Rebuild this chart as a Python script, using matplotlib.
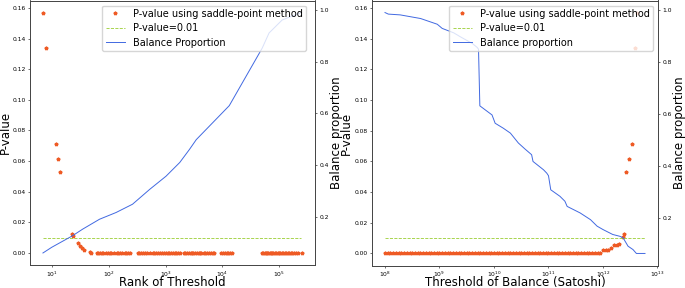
import numpy as np
from matplotlib import pyplot as plt

# ---- left panel: rank of threshold ----
rank_hi = [7, 8, 12, 13, 14, 23, 24, 29, 31, 34, 37, 47, 48]
pval_hi = [0.157, 0.1336, 0.0714, 0.0614, 0.0529, 0.0126, 0.0113, 0.0065, 0.0048, 0.0033, 0.002, 0.0005, 0.0003]
rank_zero = [
    62, 66, 71, 76, 81,
    91, 97, 104, 112, 123,
    138, 148, 160, 170,
    190, 203, 218, 234,
    324, 345, 370, 400, 430, 465, 525,
    590, 630, 680, 740, 800, 850,
    955, 1020, 1090, 1170, 1250, 1340, 1440, 1540, 1650, 1780,
    2090, 2230, 2400, 2580, 2750, 2890,
    3090, 3300, 3550, 3800, 4050, 4270,
    4680, 5000, 5380, 5800, 6250, 6700, 7240,
    9550, 10200, 11000, 11800, 12700, 13600, 14500,
    50100, 52500, 55000, 58000, 61000, 64000, 67500, 71000, 75000, 79000,
    83000, 88000, 93000, 98000, 104000, 110000, 117000, 124000, 132000,
    140000, 150000, 160000, 170000, 182000, 195000, 209000,
    251000,
]
rank_line = [7, 10, 23, 35, 69, 135, 263, 525, 1020, 1780, 2630, 3470, 13200, 50100, 66000, 112000, 166000, 245000]
prop_rank = [0.062, 0.084, 0.128, 0.154, 0.192, 0.218, 0.25, 0.307, 0.358, 0.411, 0.461, 0.499, 0.63, 0.852, 0.91, 0.96, 0.975, 0.989]

# ---- right panel: threshold of balance ----
thr_zero = [
    1.0e8, 1.12e8, 1.26e8, 1.41e8, 1.58e8, 1.78e8, 2.0e8, 2.24e8, 2.51e8, 2.82e8,
    3.16e8, 3.55e8, 3.98e8, 4.47e8, 5.01e8, 5.62e8, 6.31e8, 7.08e8, 7.94e8, 8.91e8,
    1.0e9, 1.12e9, 1.26e9, 1.41e9, 1.58e9, 1.78e9, 2.0e9, 2.24e9, 2.51e9, 2.82e9,
    3.16e9, 3.55e9, 3.98e9, 4.47e9, 5.01e9, 5.62e9, 6.31e9, 7.08e9, 7.94e9, 8.91e9,
    1.0e10, 1.12e10, 1.26e10, 1.41e10, 1.58e10, 1.78e10, 2.0e10, 2.24e10, 2.51e10, 2.82e10,
    3.16e10, 3.55e10, 3.98e10, 4.47e10, 5.01e10, 5.62e10, 6.31e10, 7.08e10, 7.94e10, 8.91e10,
    1.0e11, 1.12e11, 1.26e11, 1.41e11, 1.58e11, 1.78e11, 2.0e11, 2.24e11, 2.51e11, 2.82e11,
    3.16e11, 3.55e11, 3.98e11, 4.47e11, 5.01e11, 5.62e11, 6.31e11, 7.08e11, 7.94e11,
]
thr_hi = [8.9e11, 1.0e12, 1.12e12, 1.26e12, 1.41e12, 1.58e12, 1.78e12, 1.95e12, 2.29e12, 2.4e12,
          2.69e12, 3.02e12, 3.39e12, 3.8e12, 4.27e12]
pval_thr = [0.0005, 0.0024, 0.0024, 0.0024, 0.0037, 0.0054, 0.0054, 0.0063, 0.011, 0.0126,
            0.0529, 0.0614, 0.0714, 0.1336, 0.157]
thr_line = [1.0e8, 1.15e8, 1.9e8, 4.5e8, 9.1e8, 1.12e9, 1.82e9, 2.4e9, 4.0e9, 4.9e9, 5.2e9, 5.5e9,
            9.2e9, 1.05e10, 1.48e10, 2.0e10, 2.8e10, 3.7e10, 4.9e10, 5.2e10, 8.1e10, 9.3e10,
            1.0e11, 1.1e11, 1.62e11, 2.0e11, 2.2e11, 3.8e11, 5.9e11, 7.8e11, 1.0e12, 1.51e12,
            2.04e12, 2.34e12, 2.88e12, 3.55e12, 4.1e12, 5.9e12]
prop_thr = [0.989, 0.983, 0.98, 0.966, 0.944, 0.928, 0.911, 0.896, 0.87, 0.855, 0.848, 0.63,
            0.595, 0.563, 0.544, 0.525, 0.487, 0.464, 0.442, 0.416, 0.384, 0.371,
            0.361, 0.307, 0.282, 0.263, 0.243, 0.218, 0.192, 0.167, 0.154, 0.135,
            0.128, 0.122, 0.09, 0.077, 0.062, 0.062]

red = "#ee5a24"
green = "yellowgreen"
blue = "royalblue"
tick_fs = 4.3
label_fs = 8.5
legend_fs = 7


def style(ax):
    ax.tick_params(labelsize=tick_fs, length=1.6, width=0.4, pad=1.5)
    ax.tick_params(which="minor", length=0.9, width=0.3)
    for s in ax.spines.values():
        s.set_linewidth(0.6)
        s.set_color("#444444")


def panel(ax, x_hi, p_hi, x_zero, x_line, prop, xlabel, line_label, leg_anchor, ylab_x):
    x_all = list(x_zero) + list(x_hi)
    p_all = list(np.zeros(len(x_zero))) + list(p_hi)
    ax.plot(x_all, p_all, "*", color=red, markersize=2.6, label="P-value using saddle-point method")
    ax.plot([min(x_line), max(x_line)], [0.01, 0.01], "--", color=green, lw=0.6, label="P-value=0.01")
    ax.set_xscale("log")
    ax.set_xlabel(xlabel, fontsize=label_fs)
    ax.set_ylabel("P-value", fontsize=label_fs)
    style(ax)
    ax.xaxis.set_label_coords(0.5, -0.04)
    ax.yaxis.set_label_coords(ylab_x, 0.5)
    ax2 = ax.twinx()
    ax2.plot(x_line, prop, color=blue, lw=0.7, label=line_label)
    ax2.set_ylabel("Balance proportion", fontsize=label_fs)
    ax2.set_yticks([0.2, 0.4, 0.6, 0.8, 1.0])
    style(ax2)
    ax2.yaxis.set_label_coords(1.053, 0.5)
    h1, l1 = ax.get_legend_handles_labels()
    h2, l2 = ax2.get_legend_handles_labels()
    ax2.legend(h1 + h2, l1 + l2, loc="upper right", bbox_to_anchor=leg_anchor, fontsize=legend_fs,
               borderaxespad=0, handletextpad=0.8, labelspacing=0.45, borderpad=0.35)
    return ax2


fig = plt.figure(figsize=(6.85, 2.88), dpi=100)
ax_l = fig.add_axes([30 / 685, 23 / 288, 285 / 685, 264.5 / 288])
ax_r = fig.add_axes([372 / 685, 22.5 / 288, 286 / 685, 265 / 288])

panel(ax_l, rank_hi, pval_hi, rank_zero, rank_line, prop_rank, "Rank of Threshold", "Balance Proportion",
      (1 - 9 / 285, 1 - 5 / 264.5), -0.064)
panel(ax_r, thr_hi, pval_thr, thr_zero, thr_line, prop_thr, "Threshold of Balance (Satoshi)", "Balance proportion",
      (1 - 5 / 286, 1 - 5 / 265), -0.068)

fig.savefig("out.png", dpi=100)
